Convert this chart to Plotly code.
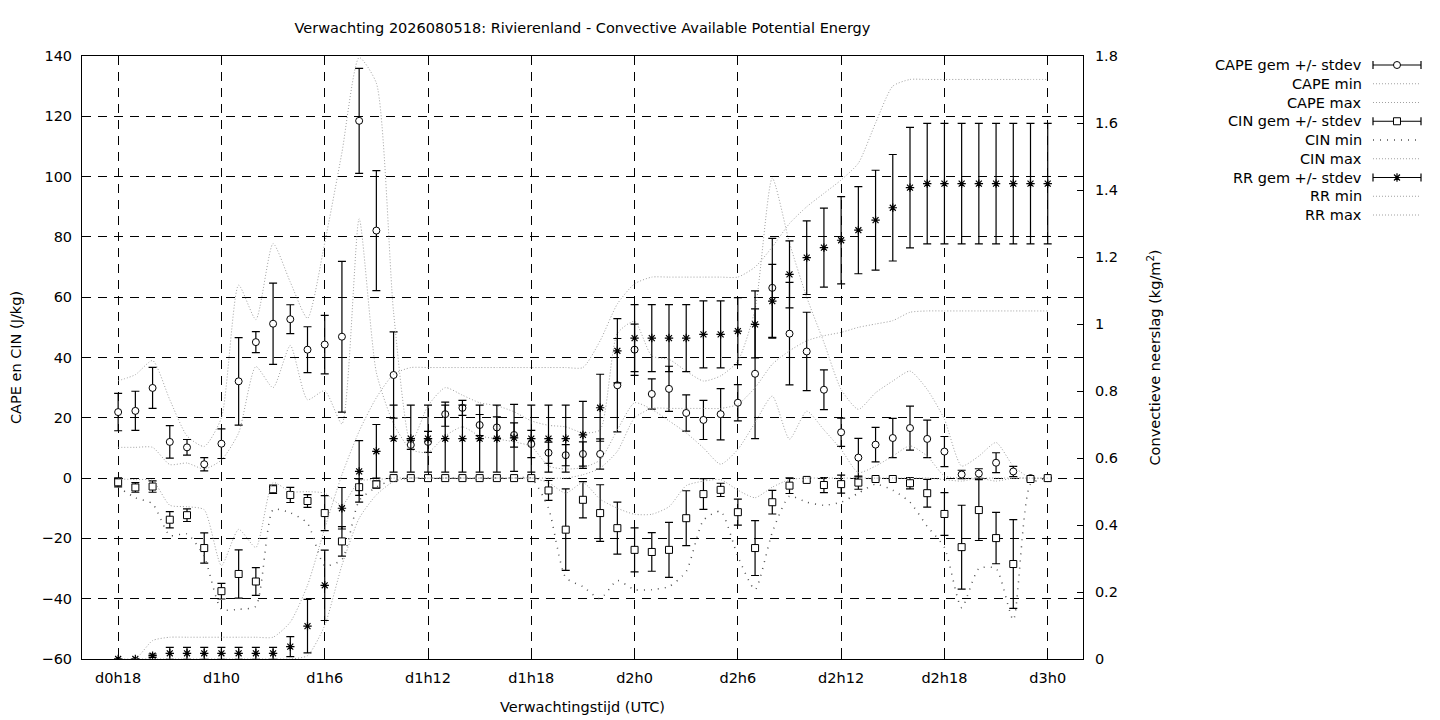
import plotly.graph_objects as go

# ==============================================================================
# data (uren na d0h0, elk uur van d0h18 t/m d3h0)
uren = list(range(18, 73))
tick_uren = [18, 24, 30, 36, 42, 48, 54, 60, 66, 72]
tick_tekst = ['d0h18', 'd1h0', 'd1h6', 'd1h12', 'd1h18', 'd2h0', 'd2h6', 'd2h12', 'd2h18', 'd3h0']

# CAPE (J/kg)
cape_gem = [21.9, 22.3, 29.9, 12.0, 10.2, 4.6,
            11.4, 32.1, 45.1, 51.2, 52.7, 42.6,
            44.3, 46.9, 118.5, 82.1, 34.2, 11.0,
            12.0, 21.2, 23.3, 17.6, 16.8, 14.3,
            11.3, 8.4, 7.6, 8.0, 8.0, 30.8,
            42.6, 27.9, 29.6, 21.6, 19.3, 21.2,
            25.0, 34.6, 63.1, 47.9, 42.0, 29.3,
            15.2, 6.8, 11.1, 13.3, 16.6, 13.0,
            8.8, 1.2, 1.5, 5.1, 2.2, 0.0,
            0.0]
cape_sd = [6.2, 6.5, 6.8, 5.4, 2.6, 2.2,
           4.9, 14.5, 3.5, 13.5, 4.8, 7.6,
           9.7, 25.0, 17.4, 19.9, 14.3, 1.5,
           3.5, 4.0, 2.5, 3.5, 3.5, 4.0,
           4.5, 3.5, 3.5, 4.0, 5.0, 15.5,
           8.5, 5.0, 7.5, 6.0, 6.5, 8.5,
           6.0, 21.5, 16.4, 17.0, 13.0, 6.6,
           4.7, 6.4, 5.7, 6.5, 7.3, 6.2,
           5.0, 1.4, 1.6, 3.3, 1.7, 0.0,
           0.0]
cape_min = [10.2, 10.2, 10.2, 4.5, 5.0, 3.0,
            6.0, 15.0, 37.0, 30.0, 44.0, 26.0,
            29.0, 18.0, 86.0, 35.0, 18.0, 9.5,
            8.5, 14.0, 17.0, 14.0, 13.0, 12.0,
            10.5, 4.0, 3.0, 3.5, 6.0, 16.0,
            25.0, 22.8, 19.0, 15.0, 10.0, 4.6,
            9.5, 18.4, 27.2, 12.9, 22.2, 16.0,
            9.5, 1.8, 4.0, 7.3, 10.7, 7.3,
            0.7, 0.0, 0.0, 0.0, 0.0, 0.0,
            0.0]
cape_max = [32.3, 34.3, 39.0, 26.0, 14.0, 10.5,
            20.0, 64.0, 52.6, 77.8, 65.0, 53.0,
            78.0, 108.0, 139.5, 131.0, 55.0, 11.5,
            24.0, 30.0, 27.5, 25.0, 24.0, 22.0,
            19.0, 17.5, 17.0, 15.0, 16.0, 48.0,
            52.0, 40.5, 39.4, 35.5, 32.2, 33.9,
            38.8, 56.0, 99.5, 78.0, 60.0, 45.0,
            29.4, 22.8, 28.3, 32.2, 35.5, 29.4,
            19.5, 4.0, 7.3, 11.8, 4.0, 0.0,
            0.0]

# CIN (J/kg)
cin_gem = [-1.4, -3.1, -2.8, -13.8, -12.3, -23.2,
           -37.5, -31.8, -34.3, -3.7, -5.6, -7.6,
           -11.6, -21.0, -3.0, -2.1, 0.0, 0.0,
           0.0, 0.0, 0.0, 0.0, 0.0, 0.0,
           0.0, -4.1, -17.1, -7.2, -11.6, -16.6,
           -23.8, -24.5, -23.8, -13.3, -5.3, -3.9,
           -11.3, -23.2, -8.0, -2.5, -0.6, -2.3,
           -2.0, -1.5, -0.3, -0.3, -1.7, -5.0,
           -11.9, -22.9, -10.6, -19.9, -28.5, -0.3,
           0.0]
cin_sd = [1.5, 1.6, 1.9, 2.7, 2.1, 5.0,
          2.6, 8.0, 4.6, 1.4, 2.5, 2.1,
          5.8, 4.9, 2.7, 1.2, 0.3, 0.3,
          0.3, 0.3, 0.3, 0.3, 0.3, 0.3,
          0.3, 3.3, 13.5, 6.0, 9.4, 8.6,
          7.3, 6.4, 9.1, 9.1, 5.1, 2.2,
          4.3, 9.1, 3.9, 2.6, 0.5, 2.5,
          3.0, 2.2, 0.3, 0.3, 1.9, 4.6,
          7.1, 13.9, 10.1, 8.5, 14.7, 0.3,
          0.0]
cin_min = [-3.0, -6.5, -8.5, -19.0, -18.5, -26.0,
           -43.5, -43.5, -42.5, -10.5, -11.5, -15.0,
           -29.0, -27.0, -7.5, -3.0, -0.5, 0.0,
           0.0, 0.0, 0.0, 0.0, 0.0, 0.0,
           0.0, -10.0, -33.0, -36.0, -40.0, -34.0,
           -37.0, -37.0, -36.0, -31.0, -14.0, -11.0,
           -26.0, -37.0, -18.0, -6.0, -8.0, -9.0,
           -8.0, -5.0, -2.0, -4.0, -8.0, -16.0,
           -23.0, -43.0, -30.0, -30.0, -47.0, -2.0,
           0.0]
cin_max = [-0.3, -0.5, -0.8, -9.0, -9.5, -10.5,
           -29.0, -17.0, -23.0, -1.5, -4.5, -4.5,
           -5.0, -9.0, -1.0, -0.5, 0.0, 0.0,
           0.0, 0.0, 0.0, 0.0, 0.0, 0.0,
           0.0, -1.5, -5.0, -1.5, -7.0, -10.0,
           -12.0, -12.0, -9.5, -2.5, -1.0, -0.5,
           -4.0, -6.5, -3.0, -0.5, 0.0, 0.0,
           0.0, 0.0, 0.0, 0.0, 0.0, 0.0,
           -0.5, -1.0, 0.0, -1.0, 0.0, 0.0,
           0.0]

# convectieve neerslag RR (kg/m2)
rr_gem = [0.0, 0.0, 0.01, 0.017, 0.017, 0.017,
          0.017, 0.017, 0.017, 0.017, 0.037, 0.098,
          0.22, 0.45, 0.56, 0.62, 0.658, 0.658,
          0.658, 0.658, 0.658, 0.658, 0.658, 0.66,
          0.658, 0.658, 0.658, 0.669, 0.75, 0.92,
          0.958, 0.958, 0.958, 0.958, 0.969, 0.969,
          0.979, 0.999, 1.068, 1.148, 1.198, 1.228,
          1.25, 1.28, 1.31, 1.347, 1.407, 1.419,
          1.419, 1.419, 1.419, 1.419, 1.419, 1.419,
          1.419]
rr_sd = [0.0, 0.0, 0.005, 0.018, 0.018, 0.018,
         0.018, 0.018, 0.018, 0.018, 0.03, 0.08,
         0.105, 0.062, 0.092, 0.08, 0.1, 0.1,
         0.1, 0.1, 0.1, 0.1, 0.1, 0.1,
         0.1, 0.1, 0.1, 0.1, 0.1, 0.096,
         0.1, 0.1, 0.1, 0.1, 0.1, 0.1,
         0.1, 0.1, 0.11, 0.1, 0.11, 0.118,
         0.13, 0.13, 0.149, 0.159, 0.18, 0.18,
         0.18, 0.18, 0.18, 0.18, 0.18, 0.18,
         0.18]
rr_min = [0.0, 0.0, 0.0, 0.0, 0.0, 0.0,
          0.0, 0.0, 0.0, 0.0, 0.0, 0.01,
          0.1, 0.28, 0.42, 0.49, 0.53, 0.54,
          0.54, 0.54, 0.54, 0.54, 0.54, 0.54,
          0.54, 0.54, 0.54, 0.55, 0.57, 0.62,
          0.72, 0.748, 0.748, 0.748, 0.748, 0.748,
          0.76, 0.81, 0.88, 0.92, 0.95, 0.965,
          0.975, 0.99, 1.0, 1.01, 1.035, 1.039,
          1.039, 1.039, 1.039, 1.039, 1.039, 1.039,
          1.039]
rr_max = [0.0, 0.0, 0.055, 0.065, 0.065, 0.065,
          0.065, 0.065, 0.065, 0.065, 0.11, 0.22,
          0.39, 0.55, 0.68, 0.78, 0.85, 0.87,
          0.87, 0.87, 0.87, 0.87, 0.87, 0.87,
          0.87, 0.87, 0.87, 0.87, 0.95, 1.06,
          1.12, 1.14, 1.14, 1.14, 1.14, 1.14,
          1.14, 1.17, 1.23, 1.30, 1.35, 1.39,
          1.43, 1.48, 1.60, 1.71, 1.73, 1.73,
          1.73, 1.73, 1.73, 1.73, 1.73, 1.73,
          1.73]

legend_tekst = ['CAPE gem +/- stdev', 'CAPE min', 'CAPE max',
                'CIN gem +/- stdev', 'CIN min', 'CIN max',
                'RR gem +/- stdev', 'RR min', 'RR max']

# ==============================================================================
# opmaak; de pagina heeft 8px body-marge, dus alles 8px naar links/boven
OFF = 8
FONT = 'DejaVu Sans'
FS = 14.5
GRIJS = '#a0a0a0'
W, H = 1440 - OFF, 720 - OFF
ML, MT = 82 - OFF, 56 - OFF
MB = H - (659 - OFF)
PLOT_R = 1083 - OFF                 # rechterrand plotgebied (px)
paper_w = W - ML
x_dom = (PLOT_R - ML) / paper_w

stippel = dict(color=GRIJS, width=1, dash='1px,2px', shape='spline', smoothing=0.6)
cin_stippel = dict(color='#505050', width=1.5, dash='1px,6px', shape='spline', smoothing=0.6)
fout = dict(type='data', color='black', thickness=1.2, width=4)


def gem_marker(symbool):
    if symbool == 'asterisk-open':
        return dict(symbol=symbool, size=7, color='black', line=dict(color='black', width=1.2))
    return dict(symbol=symbool, size=7, color='white', line=dict(color='black', width=1))


def gem_trace(y, sd, symbool, as_y='y'):
    return go.Scatter(x=uren, y=y, mode='markers', yaxis=as_y,
                      marker=gem_marker(symbool), error_y=dict(fout, array=sd))


fig = go.Figure()
fig.add_trace(gem_trace(cape_gem, cape_sd, 'circle'))
fig.add_trace(go.Scatter(x=uren, y=cape_min, mode='lines', line=stippel))
fig.add_trace(go.Scatter(x=uren, y=cape_max, mode='lines', line=stippel))
fig.add_trace(gem_trace(cin_gem, cin_sd, 'square'))
fig.add_trace(go.Scatter(x=uren, y=cin_min, mode='lines', line=cin_stippel))
fig.add_trace(go.Scatter(x=uren, y=cin_max, mode='lines', line=stippel))
fig.add_trace(gem_trace(rr_gem, rr_sd, 'asterisk-open', 'y2'))
fig.add_trace(go.Scatter(x=uren, y=rr_min, mode='lines', line=stippel, yaxis='y2'))
fig.add_trace(go.Scatter(x=uren, y=rr_max, mode='lines', line=stippel, yaxis='y2'))

# ------------------------------------------------------------------------------
# legenda (gnuplot-stijl: tekst rechts uitgelijnd, voorbeeld rechts ervan)
KEY_X0, KEY_X1, KEY_TXT = 1373 - OFF, 1421 - OFF, 1364 - OFF
key_mid = (KEY_X0 + KEY_X1) / 2
symbolen = {0: 'circle', 3: 'square', 6: 'asterisk-open'}
for i, tekst in enumerate(legend_tekst):
    if i in symbolen:
        fig.add_trace(go.Scatter(
            x=[key_mid], y=[i], mode='markers', xaxis='x3', yaxis='y3',
            marker=gem_marker(symbolen[i]),
            error_x=dict(type='data', array=[(KEY_X1 - KEY_X0) / 2], color='black',
                         thickness=1.2, width=4)))
    else:
        lijn = dict(cin_stippel if i == 4 else stippel)
        lijn.pop('shape')
        lijn.pop('smoothing')
        fig.add_trace(go.Scatter(x=[KEY_X0, KEY_X1], y=[i, i], mode='lines',
                                 xaxis='x3', yaxis='y3', line=lijn))
    fig.add_annotation(x=KEY_TXT, y=i, xref='x3', yref='y3', text=tekst,
                       showarrow=False, xanchor='right', yanchor='middle',
                       font=dict(family=FONT, size=FS, color='black'))

rij_px = 18.75
key_top = 65 - OFF
as_kwargs = dict(ticks='inside', ticklen=6, tickcolor='black', showline=True,
                 linecolor='black', linewidth=1, zeroline=False,
                 tickfont=dict(family=FONT, size=FS, color='black'))
x3_start = x_dom + 0.01

fig.update_layout(
    width=W, height=H,
    margin=dict(l=ML, r=0, t=MT, b=MB, pad=0),
    paper_bgcolor='white', plot_bgcolor='white',
    showlegend=False,
    font=dict(family=FONT, size=FS, color='black'),
    title=dict(text='Verwachting 2026080518: Rivierenland - Convective Available Potential Energy',
               x=x_dom / 2, xref='paper', xanchor='center',
               y=1 - (28 - OFF) / H, yref='container', yanchor='middle',
               font=dict(family=FONT, size=FS, color='black')),
    xaxis=dict(domain=[0, x_dom], range=[15.9, 74.05], tickvals=tick_uren, ticktext=tick_tekst,
               mirror='ticks', showgrid=True, gridcolor='black', gridwidth=1, griddash='9px,7px',
               ticklabelstandoff=6,
               title=dict(text='Verwachtingstijd (UTC)', standoff=16,
                          font=dict(family=FONT, size=FS)),
               **as_kwargs),
    yaxis=dict(range=[-60, 140], dtick=20, showgrid=True, gridcolor='black', gridwidth=1,
               griddash='9px,7px', ticklabelstandoff=6,
               title=dict(text='CAPE en CIN (J/kg)', standoff=16,
                          font=dict(family=FONT, size=FS)),
               **as_kwargs),
    yaxis2=dict(range=[0, 1.8], dtick=0.2, overlaying='y', side='right', anchor='x',
                showgrid=False, ticklabelstandoff=8,
                title=dict(text='Convectieve neerslag (kg/m<sup>2</sup>)', standoff=32,
                           font=dict(family=FONT, size=FS)),
                **as_kwargs),
    xaxis3=dict(domain=[x3_start, 1], range=[PLOT_R + (x3_start - x_dom) * paper_w, W],
                anchor='y3', visible=False, fixedrange=True),
    yaxis3=dict(domain=[0, 1], anchor='x3', visible=False, fixedrange=True,
                range=[(H - MB - key_top) / rij_px, (MT - key_top) / rij_px]),
)

fig.write_html("out.html")
